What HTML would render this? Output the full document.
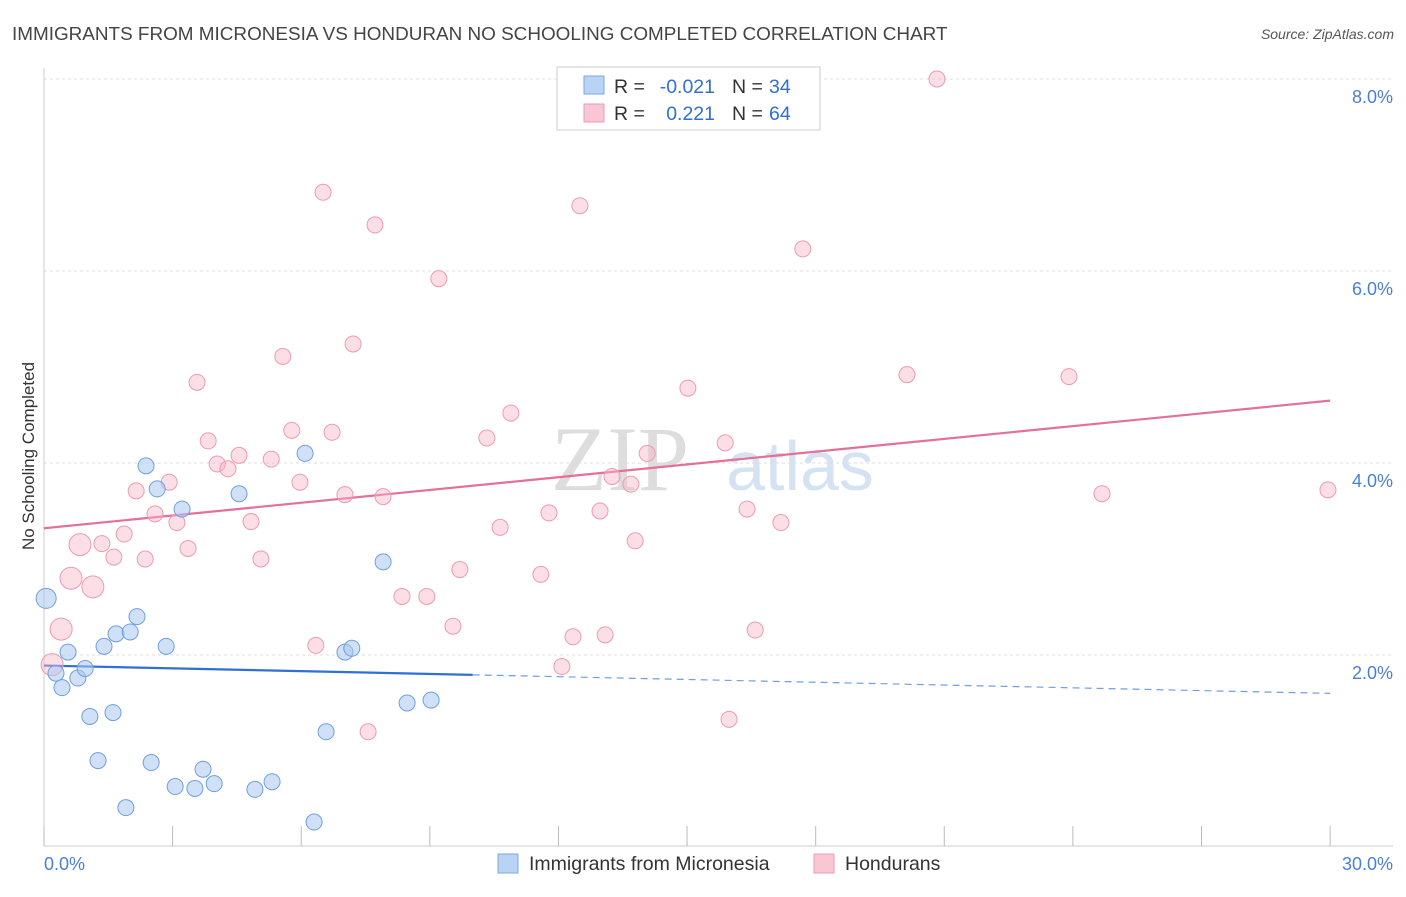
<!DOCTYPE html>
<html><head><meta charset="utf-8"><style>
body{margin:0;background:#fff;font-family:"Liberation Sans",sans-serif;}
</style></head><body>
<svg id="chart" width="1406" height="892" xmlns="http://www.w3.org/2000/svg">
<text x="12" y="40" font-size="18.9" fill="#444">IMMIGRANTS FROM MICRONESIA VS HONDURAN NO SCHOOLING COMPLETED CORRELATION CHART</text>
<text x="1394" y="39" font-size="14" fill="#555" font-style="italic" text-anchor="end">Source: ZipAtlas.com</text>
<text x="620" y="490" font-size="92" fill="#ddd" font-family="Liberation Serif" text-anchor="middle">ZIP</text>
<text x="800" y="490" font-size="70" fill="#d4e2f4" text-anchor="middle">atlas</text>
<g id="grid"></g><g id="axes"></g><g id="lines"></g><g id="pts"></g>
<text transform="translate(34,456) rotate(-90)" font-size="17" fill="#333" text-anchor="middle">No Schooling Completed</text>
<g>
<rect x="557" y="67" width="263" height="63" fill="#fff" stroke="#ccc"/>
<rect x="584" y="76" width="20" height="18" fill="#b9d3f5" stroke="#7aa7e4"/>
<rect x="584" y="104" width="20" height="18" fill="#f9c6d4" stroke="#ec9bb4"/>
<g font-size="19.5">
<text x="614" y="93" fill="#333">R =</text>
<text x="715" y="93" fill="#2f6fd6" text-anchor="end">-0.021</text>
<text x="732" y="93" fill="#333">N =</text>
<text x="769" y="93" fill="#2f6fd6">34</text>
<text x="614" y="120" fill="#333">R =</text>
<text x="715" y="120" fill="#2f6fd6" text-anchor="end">0.221</text>
<text x="732" y="120" fill="#333">N =</text>
<text x="769" y="120" fill="#2f6fd6">64</text>
</g>
</g>
<g>
<rect x="498" y="854" width="20" height="19" fill="#b9d3f5" stroke="#7aa7e4"/>
<text x="529" y="870" font-size="19.5" fill="#333">Immigrants from Micronesia</text>
<rect x="814" y="854" width="20" height="19" fill="#f9c6d4" stroke="#ec9bb4"/>
<text x="845" y="870" font-size="19.5" fill="#333">Hondurans</text>
</g>
</svg>
<script>
const yTicks=[2,4,6,8];
const yTickLabels=["2.0%","4.0%","6.0%","8.0%"];
const xTickLabels=["0.0%","30.0%"];
const blueX=[0.05,0.28,0.42,0.56,0.79,0.96,1.07,1.26,1.40,1.61,1.68,1.91,2.01,2.17,2.38,2.50,2.64,2.85,3.06,3.22,3.52,3.71,3.97,4.55,4.92,5.32,6.09,6.30,6.58,7.02,7.18,7.91,8.47,9.03];
const blueY=[2.59,1.81,1.66,2.03,1.76,1.86,1.36,0.90,2.09,1.40,2.22,0.41,2.24,2.40,3.97,0.88,3.73,2.09,0.63,3.52,0.61,0.81,0.66,3.68,0.60,0.68,4.10,0.26,1.20,2.03,2.07,2.97,1.50,1.53];
const pinkPx=[[937,79],[323,192],[375,225],[580,206],[803,249],[439,279],[283,356],[353,344],[197,382],[907,375],[1069,377],[688,388],[511,413],[208,441],[292,430],[332,432],[487,438],[725,443],[647,453],[239,455],[271,459],[217,464],[228,469],[169,482],[300,482],[136,491],[345,495],[383,497],[612,476],[631,484],[1102,494],[1328,490],[155,514],[251,522],[177,523],[500,527],[549,513],[600,511],[747,509],[781,523],[124,534],[80,545],[102,544],[188,548],[635,541],[114,557],[145,559],[261,559],[460,570],[541,574],[71,578],[93,587],[402,596],[427,596],[453,626],[573,637],[605,635],[755,630],[316,645],[61,629],[562,667],[729,719],[368,732],[52,665]];
const pinkX=pinkPx.map(p=>+((p[0]-44)/42.87).toFixed(2));
const pinkY=pinkPx.map(p=>+((847-p[1])/96).toFixed(2));
const blueTrend=[1.89,1.60];
const pinkTrend=[3.32,4.65];
const X=v=>44+v*42.87, Y=v=>847-v*96;
const NS="http://www.w3.org/2000/svg";
function mk(t,a,p){const e=document.createElementNS(NS,t);for(const k in a)e.setAttribute(k,a[k]);document.getElementById(p).appendChild(e);return e;}
yTicks.forEach((t,i)=>{
 const g=mk('line',{x1:44,x2:1393,y1:Y(t),y2:Y(t),stroke:'#ddd','stroke-dasharray':'3,3'},'grid');
 
 
 const l=mk('text',{x:1393,y:Y(t)+24,'font-size':18,fill:'#4a7fd6','text-anchor':'end'},'axes');
 l.textContent=yTickLabels[i];
 
 
});
mk('line',{x1:44,x2:44,y1:68,y2:846,stroke:'#ccc'},'axes');
mk('line',{x1:44,x2:1393,y1:846,y2:846,stroke:'#ccc'},'axes');
for(let i=0;i<=10;i++){const t=mk('line',{x1:X(i*3),x2:X(i*3),y1:826,y2:846,stroke:'#bbb'},'axes');
 
 }
[[0,44,'start'],[30,1393,'end']].forEach((d,i)=>{const l=mk('text',{x:d[1],y:870,'font-size':18,fill:'#4a7fd6','text-anchor':d[2]},'axes');l.textContent=xTickLabels[i];
 
 });
let e=mk('line',{x1:X(0),y1:Y(pinkTrend[0]),x2:X(30),y2:Y(pinkTrend[1]),stroke:'#e4709a','stroke-width':2.2},'lines');


const bAt=x=>blueTrend[0]+(blueTrend[1]-blueTrend[0])*x/30;
e=mk('line',{x1:X(0),y1:Y(bAt(0)),x2:X(10),y2:Y(bAt(10)),stroke:'#2f6fd6','stroke-width':2.2},'lines');


e=mk('line',{x1:X(10),y1:Y(bAt(10)),x2:X(30),y2:Y(bAt(30)),stroke:'#6f9fe0','stroke-width':1.2,'stroke-dasharray':'7,5'},'lines');


pinkX.forEach((x,i)=>{const r=x<1.2?11:8;const c=mk('circle',{cx:X(x),cy:Y(pinkY[i]),r:r,fill:'rgba(246,182,200,0.45)',stroke:'#ec9bb4','stroke-width':1},'pts');
 
 });
blueX.forEach((x,i)=>{const r=x<0.2?10:8;const c=mk('circle',{cx:X(x),cy:Y(blueY[i]),r:r,fill:'rgba(169,200,240,0.55)',stroke:'#6f9fe0','stroke-width':1},'pts');
 
 });
</script>
</body></html>
